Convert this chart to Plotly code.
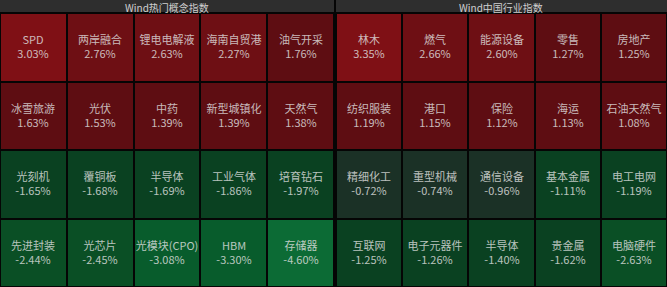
import plotly.graph_objects as go

# ---------------- data ----------------
panel_titles = ["Wind热门概念指数", "Wind中国行业指数"]

left_names = [
    ["SPD", "两岸融合", "锂电电解液", "海南自贸港", "油气开采"],
    ["冰雪旅游", "光伏", "中药", "新型城镇化", "天然气"],
    ["光刻机", "覆铜板", "半导体", "工业气体", "培育钻石"],
    ["先进封装", "光芯片", "光模块(CPO)", "HBM", "存储器"],
]
left_vals = [
    [3.03, 2.76, 2.63, 2.27, 1.76],
    [1.63, 1.53, 1.39, 1.39, 1.38],
    [-1.65, -1.68, -1.69, -1.86, -1.97],
    [-2.44, -2.45, -3.08, -3.30, -4.60],
]

right_names = [
    ["林木", "燃气", "能源设备", "零售", "房地产"],
    ["纺织服装", "港口", "保险", "海运", "石油天然气"],
    ["精细化工", "重型机械", "通信设备", "基本金属", "电工电网"],
    ["互联网", "电子元器件", "半导体", "贵金属", "电脑硬件"],
]
right_vals = [
    [3.35, 2.66, 2.60, 1.27, 1.25],
    [1.19, 1.15, 1.12, 1.13, 1.08],
    [-0.72, -0.74, -0.96, -1.11, -1.19],
    [-1.25, -1.26, -1.40, -1.62, -2.63],
]

# stepped colour scale, bins of 1% from -5 to +4
bin_colors = [
    "#0c6b35",  # -5..-4
    "#085c2c",  # -4..-3
    "#0a4f25",  # -3..-2
    "#0a4121",  # -2..-1
    "#1b3126",  # -1..0
    "#3a1416",  # 0..1
    "#5e0d12",  # 1..2
    "#6e0f14",  # 2..3
    "#7f1015",  # 3..4
]
ZMIN, ZMAX = -5, 4

# ---------------- figure ----------------
W, H = 667, 287
HEADER = 13

n = len(bin_colors)
colorscale = []
for i, c in enumerate(bin_colors):
    colorscale.append([i / n, c])
    colorscale.append([(i + 1) / n, c])

fig = go.Figure()

panels = [(left_names, left_vals), (right_names, right_vals)]
x_domains = [[0, 334 / W], [336 / W, 1]]
y_top = (H - HEADER) / H

for k, (names, vals) in enumerate(panels):
    text = [[f"{nm}<br>{v:.2f}%" for nm, v in zip(rn, rv)] for rn, rv in zip(names, vals)]
    xa = "x" if k == 0 else "x2"
    ya = "y" if k == 0 else "y2"
    fig.add_trace(go.Heatmap(
        z=vals,
        x=list(range(5)),
        y=list(range(4)),
        text=text,
        texttemplate="%{text}",
        textfont=dict(family="Noto Sans CJK SC", size=11, color="rgba(225,225,225,0.82)"),
        colorscale=colorscale,
        zmin=ZMIN, zmax=ZMAX,
        showscale=False,
        xgap=2, ygap=2,
        hoverinfo="skip",
        xaxis=xa, yaxis=ya,
    ))

axis_common = dict(showgrid=False, zeroline=False, showticklabels=False, ticks="", fixedrange=True)
fig.update_layout(
    width=W, height=H,
    margin=dict(l=0, r=0, t=0, b=0),
    paper_bgcolor="#050505",
    plot_bgcolor="#050505",
    xaxis=dict(domain=x_domains[0], range=[-0.5, 4.5], **axis_common),
    xaxis2=dict(domain=x_domains[1], range=[-0.5, 4.5], anchor="y2", **axis_common),
    yaxis=dict(domain=[0, y_top], range=[3.5, -0.5], **axis_common),
    yaxis2=dict(domain=[0, y_top], range=[3.5, -0.5], anchor="x2", **axis_common),
    showlegend=False,
)

# header bars and titles
for k, title in enumerate(panel_titles):
    x0, x1 = x_domains[k]
    fig.add_shape(type="rect", xref="paper", yref="paper",
                  x0=x0, x1=x1, y0=(H - 12) / H, y1=1,
                  fillcolor="#2e2e2e", line=dict(width=0), layer="below")
    fig.add_annotation(x=(x0 + x1) / 2, y=(H - 7) / H, xref="paper", yref="paper",
                       text=title, showarrow=False, borderpad=0,
                       font=dict(family="Noto Sans CJK SC", size=10, color="#d0d0d0"),
                       xanchor="center", yanchor="middle")

fig.write_html("out.html")
